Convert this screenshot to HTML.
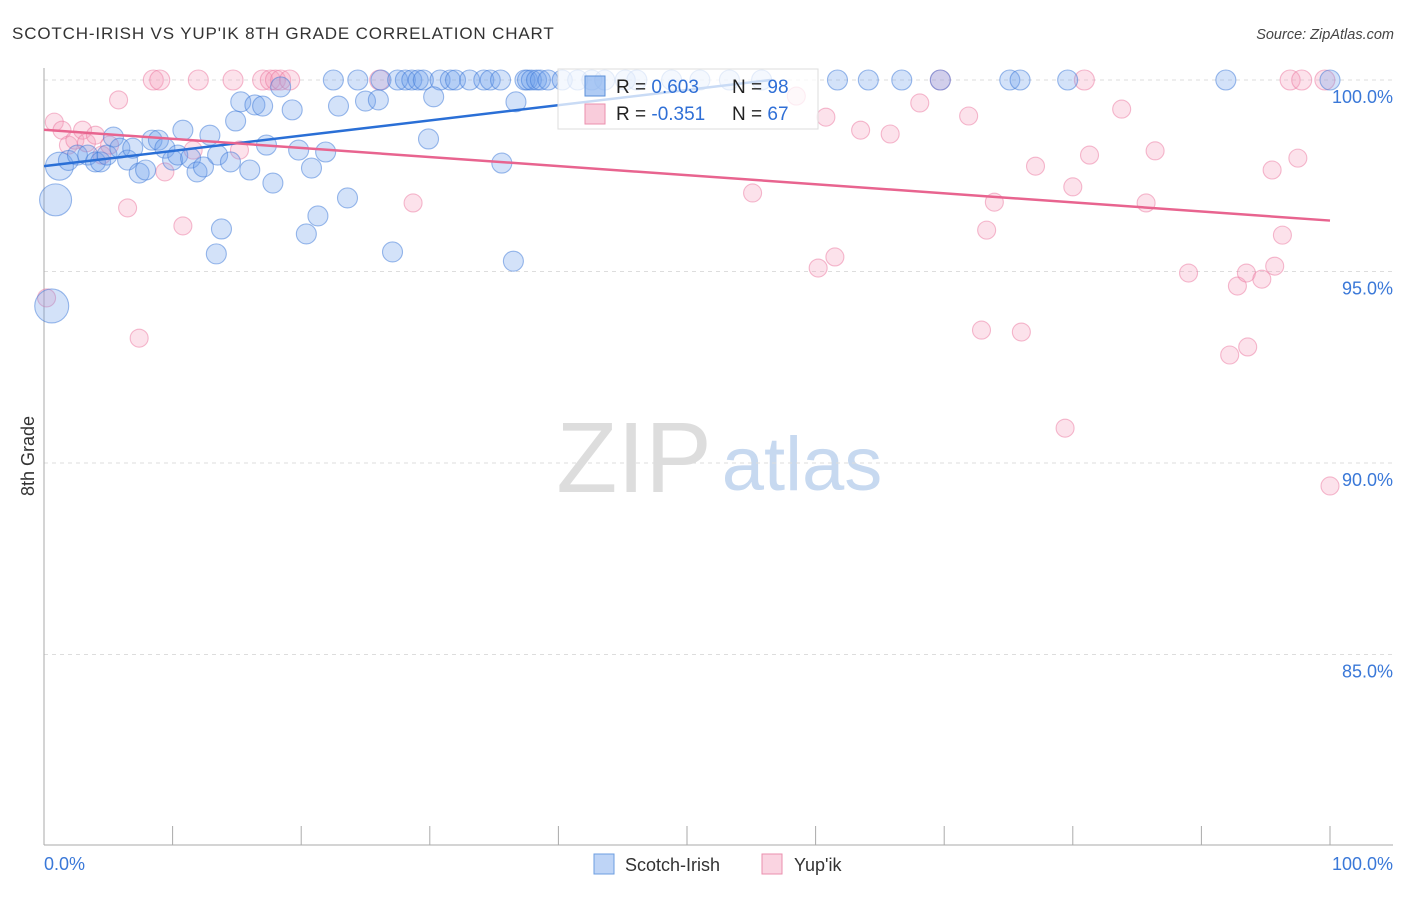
<!DOCTYPE html>
<html><head><meta charset="utf-8"><style>
body{margin:0;background:#fff;font-family:"Liberation Sans",sans-serif}
svg text{font-family:"Liberation Sans",sans-serif}
</style></head><body>
<svg id="chart" width="1406" height="892" viewBox="0 0 1406 892" xmlns="http://www.w3.org/2000/svg">
<text x="12" y="39" font-size="17" fill="#333" letter-spacing="0.85">SCOTCH-IRISH VS YUP'IK 8TH GRADE CORRELATION CHART</text>
<text x="1394" y="39" font-size="14.5" fill="#444" text-anchor="end" font-style="italic">Source: ZipAtlas.com</text>
<g>
<text x="634" y="492" font-size="100" fill="#ddd" font-family="Liberation Serif,serif" text-anchor="middle">ZIP</text>
<text x="802" y="490" font-size="76" fill="#c7d9f0" text-anchor="middle">atlas</text>
</g>
<g id="grid"></g>
<g id="axes"></g>
<g id="marks"></g>
<g id="legend-top">
<rect x="558" y="69" width="260" height="60" fill="rgba(255,255,255,0.75)" stroke="#ddd"/>
<rect x="585" y="76" width="20" height="20" fill="rgba(110,160,235,0.55)" stroke="#5b8fd8"/>
<rect x="585" y="104" width="20" height="20" fill="rgba(245,170,195,0.6)" stroke="#eb8fae"/>
<text x="616" y="93" font-size="19" fill="#222">R = <tspan fill="#2f6fd6">0.603</tspan></text>
<text x="732" y="93" font-size="19" fill="#222">N = <tspan fill="#2f6fd6">98</tspan></text>
<text x="616" y="120" font-size="19" fill="#222">R = <tspan fill="#2f6fd6">-0.351</tspan></text>
<text x="732" y="120" font-size="19" fill="#222">N = <tspan fill="#2f6fd6">67</tspan></text>
</g>
<g>
<rect x="594" y="854" width="20" height="20" fill="rgba(110,160,235,0.45)" stroke="#6c9ee0"/>
<text x="625" y="871" font-size="18" fill="#333">Scotch-Irish</text>
<rect x="762" y="854" width="20" height="20" fill="rgba(245,170,195,0.5)" stroke="#eb8fae"/>
<text x="794" y="871" font-size="18" fill="#333">Yup'ik</text>
</g>
<text transform="translate(34,456) rotate(-90)" font-size="18" fill="#333" text-anchor="middle">8th Grade</text>
</svg>
<script>
const yTicks=[100,95,90,85];
const yTickLabels=["100.0%","95.0%","90.0%","85.0%"];
const xTickValues=[0,10,20,30,40,50,60,70,80,90,100];
const xAxisLabels=["0.0%","100.0%"];
const blueTopX=[22.5,24.4,26.2,27.5,28.1,28.6,29.1,29.5,30.8,31.6,32.0,33.1,34.2,34.7,35.5,37.4,37.6,37.9,38.3,38.6,39.2,40.3,41.5,42.6,43.6,45.2,46.1,48.8,51.0,53.3,55.8,61.7,64.1,66.7,69.7,75.1,75.9,79.6,91.9,100];
const blueX=[1.2,0.9,0.6,1.9,2.6,3.4,4.0,4.4,4.9,5.4,5.9,6.5,6.9,7.4,7.9,8.4,8.9,9.4,10.0,10.4,10.8,11.4,11.9,12.4,12.9,13.5,13.8,13.4,14.5,14.9,15.3,16.0,16.4,17.0,17.3,17.8,18.4,19.3,19.8,20.4,20.8,21.3,21.9,22.9,23.6,25.0,26.0,27.1,29.9,30.3,35.6,36.5,36.7];
const blueY=[97.75,96.87,94.1,97.9,98.04,98.04,97.86,97.86,98.04,98.51,98.22,97.91,98.22,97.57,97.65,98.43,98.43,98.22,97.91,98.04,98.69,97.96,97.6,97.73,98.56,98.04,96.11,95.46,97.86,98.93,99.43,97.65,99.35,99.32,98.3,97.31,99.82,99.22,98.17,95.98,97.7,96.45,98.12,99.32,96.92,99.45,99.48,95.51,98.46,99.56,97.83,95.27,99.43];
const blueSize=[14,16,17];
const pinkTopX=[8.5,9.0,12.0,14.7,17.0,17.6,18.0,18.4,19.1,26.1,69.7,80.9,96.9,97.8,99.6];
const pinkX=[0.8,1.4,1.9,2.4,3.0,3.3,4.0,4.5,5.1,5.8,6.5,7.4,9.4,10.8,11.6,15.2,28.7,55.1,58.5,60.2,60.8,61.5,63.5,65.8,68.1,71.9,72.9,73.3,73.9,76.0,77.1,79.4,80.0,81.3,83.8,85.7,86.4,89.0,92.2,92.8,93.5,93.6,94.7,95.5,95.7,96.3,97.5,100,0.2];
const pinkY=[98.9,98.69,98.3,98.43,98.69,98.36,98.56,98.04,98.3,99.48,96.66,93.26,97.6,96.19,98.17,98.17,96.79,97.05,99.58,95.09,99.03,95.38,98.69,98.59,99.4,99.06,93.47,96.08,96.81,93.42,97.75,90.91,97.21,98.04,99.24,96.79,98.15,94.96,92.82,94.62,94.96,93.03,94.8,97.65,95.14,95.95,97.96,89.4,94.31];
const blueTrend=[[0,97.75],[56.5,100]];
const pinkTrend=[[0,98.7],[100,96.33]];
const NS="http://www.w3.org/2000/svg";
const X=v=>44+v*12.86;
const Y=v=>80+(100-v)*38.3;
function mk(t,a,p){const e=document.createElementNS(NS,t);for(const k in a)e.setAttribute(k,a[k]);p.appendChild(e);return e;}
const grid=document.getElementById('grid'),axes=document.getElementById('axes'),marks=document.getElementById('marks');
yTicks.forEach((t,i)=>{
 const l=mk('line',{x1:44,x2:1393,y1:Y(t),y2:Y(t),stroke:'#ddd','stroke-dasharray':'4,4'},grid);
 
 
 const tx=mk('text',{x:1393,y:Y(t)+23,'font-size':18,fill:'#3a78d8','text-anchor':'end'},axes);
 tx.textContent=yTickLabels[i];
 
 
});
const ya=mk('line',{x1:44,x2:44,y1:68,y2:845,stroke:'#aaa'},axes);


const xa=mk('line',{x1:44,x2:1393,y1:845,y2:845,stroke:'#aaa'},axes);


xTickValues.forEach(v=>{
 const t=mk('line',{x1:X(v),x2:X(v),y1:826,y2:845,stroke:'#aaa'},axes);
 
 
});
const xl0=mk('text',{x:44,y:870,'font-size':18,fill:'#3a78d8'},axes);xl0.textContent=xAxisLabels[0];


const xl1=mk('text',{x:1393,y:870,'font-size':18,fill:'#3a78d8','text-anchor':'end'},axes);xl1.textContent=xAxisLabels[1];


function dot(x,y,r,c){
 const blue=c==='b';
 const e=mk('circle',{cx:X(x),cy:Y(y),r:r,fill:blue?'rgba(110,160,235,0.3)':'rgba(245,160,190,0.3)',stroke:blue?'rgba(60,120,215,0.5)':'rgba(235,120,160,0.5)','stroke-width':1.1},marks);
 
 
}
pinkTopX.forEach(x=>dot(x,100,10,'p'));
pinkX.forEach((x,i)=>dot(x,pinkY[i],9,'p'));
blueTopX.forEach(x=>dot(x,100,10,'b'));
blueX.forEach((x,i)=>dot(x,blueY[i],blueSize[i]||10,'b'));
const bl=mk('line',{x1:X(blueTrend[0][0]),y1:Y(blueTrend[0][1]),x2:X(blueTrend[1][0]),y2:Y(blueTrend[1][1]),stroke:'#2a6fd6','stroke-width':2.5},marks);


const pl=mk('line',{x1:X(pinkTrend[0][0]),y1:Y(pinkTrend[0][1]),x2:X(pinkTrend[1][0]),y2:Y(pinkTrend[1][1]),stroke:'#e8648f','stroke-width':2.5},marks);


</script>
</body></html>
